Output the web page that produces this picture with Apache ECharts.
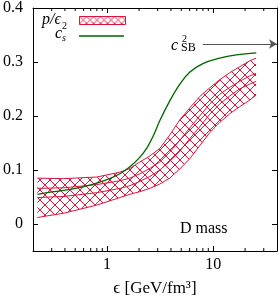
<!DOCTYPE html>
<html><head><meta charset="utf-8">
<script src="https://cdn.jsdelivr.net/npm/echarts@6/dist/echarts.min.js"></script>
<style>html,body{margin:0;padding:0;background:#fff}#c{width:279px;height:302px}</style>
</head><body><div id="c"></div>
<script>
// ---- data ----
const bandEps   = [0.22,0.39,0.80,1.32,1.64,2.04,2.53,3.14,3.90,4.85,6.02,7.47,9.27,11.5,14.3,17.7,22.0,25.4];
const bandUpper = [0.085,0.084,0.087,0.096,0.103,0.115,0.126,0.140,0.165,0.193,0.215,0.236,0.252,0.267,0.280,0.291,0.302,0.307];
const bandInnerHigh = [0.066,0.067,0.073,0.080,0.085,0.093,0.103,0.115,0.133,0.155,0.178,0.200,0.222,0.240,0.253,0.264,0.274,0.279];
const bandInnerLow  = [0.049,0.051,0.058,0.066,0.071,0.079,0.088,0.100,0.116,0.135,0.158,0.180,0.203,0.222,0.237,0.250,0.259,0.264];
const bandLower = [0.012,0.020,0.035,0.049,0.055,0.060,0.066,0.074,0.085,0.102,0.121,0.145,0.169,0.188,0.204,0.217,0.229,0.239];
const cs2Eps = [0.22,0.29,0.45,0.69,1.0,1.32,1.64,2.0,2.36,2.72,3.15,3.9,4.85,6.0,8.0,11.5,16.5,25.5];
const cs2    = [0.055,0.059,0.064,0.072,0.082,0.093,0.106,0.122,0.140,0.163,0.192,0.228,0.259,0.281,0.297,0.307,0.313,0.317];
const yTicks = [0,0.1,0.2,0.3,0.4];
const xMinorTicks = [0.3,0.4,0.5,0.6,0.7,0.8,0.9,2,3,4,5,6,7,8,9,20,30];
const cSB = 1/3;
const sbArrowFrom = 8, sbArrowTo = 40;
const xMin = 0.2, xMax = 40, yMin = -0.05, yMax = 0.4;

const RED = '#dc143c', GREEN = '#006400';
const FONT = 'Liberation Serif';

function hatch(size, color, lw){
  const c = document.createElement('canvas'); c.width = size; c.height = size;
  const g = c.getContext('2d'); g.strokeStyle = color; g.lineWidth = lw;
  g.beginPath(); g.moveTo(0,0); g.lineTo(size,size); g.moveTo(size,0); g.lineTo(0,size); g.stroke();
  return c;
}
const hatchBig = hatch(10, RED, 1);
const hatchSmall = hatch(7, RED, 0.9);

const pairs = (xs, ys) => xs.map((x,i)=>[x, ys[i]]);
const edge = (ys) => ({type:'line', data:pairs(bandEps, ys), showSymbol:false, symbol:'none',
  lineStyle:{color:RED, width:1}, silent:true, z:3});
const txt = (left, top, text, size, italic) => ({type:'text', left, top,
  style:{text, fontFamily:FONT, fontSize:size, fontStyle: italic ? 'italic' : 'normal', fill:'#000'}});

const chart = echarts.init(document.getElementById('c'), null, {renderer:'canvas'});
const axCommon = {type:'log', min:xMin, max:xMax, logBase:10,
  axisLine:{show:true, onZero:false, lineStyle:{color:'#000', width:1}},
  axisTick:{show:true, inside:true, length:5, lineStyle:{color:'#000'}},
  splitLine:{show:false}, minorTick:{show:false}};
const yCommon = {type:'value', min:yMin, max:yMax,
  axisLine:{show:true, onZero:false, lineStyle:{color:'#000', width:1}},
  axisTick:{show:true, inside:true, length:5, customValues:yTicks, lineStyle:{color:'#000'}},
  splitLine:{show:false}};

chart.setOption({
  animation:false,
  grid:{left:32, right:2, top:7, bottom:49, containLabel:false},
  xAxis:[
    Object.assign({}, axCommon, {position:'bottom',
      axisLabel:{show:true, margin:6, color:'#000', fontFamily:FONT, fontSize:16, showMinLabel:false, showMaxLabel:false},
      name:'ϵ [GeV/fm³]', nameLocation:'middle', nameGap:29,
      nameTextStyle:{color:'#000', fontFamily:FONT, fontSize:17}}),
    Object.assign({}, axCommon, {position:'top', axisLabel:{show:false}})
  ],
  yAxis:[
    Object.assign({}, yCommon, {position:'left',
      axisLabel:{show:true, margin:10, color:'#000', fontFamily:FONT, fontSize:16, customValues:yTicks,
        formatter:v => (Math.abs(v)<1e-9 ? '0' : v.toFixed(1))}}),
    Object.assign({}, yCommon, {position:'right', axisLabel:{show:false}})
  ],
  series:[
    {type:'custom', silent:true, z:2, clip:true,
      data:[[bandEps[0], bandUpper[0]]],
      renderItem:(params, api)=>{
        const pts = [];
        for (let i=0;i<bandEps.length;i++) pts.push(api.coord([bandEps[i], bandUpper[i]]));
        for (let i=bandEps.length-1;i>=0;i--) pts.push(api.coord([bandEps[i], bandLower[i]]));
        return {type:'polygon', shape:{points:pts},
          style:{fill:{image:hatchBig, repeat:'repeat'}, stroke:null}};
      }},
    edge(bandUpper), edge(bandInnerHigh), edge(bandInnerLow), edge(bandLower),
    {type:'line', data:pairs(cs2Eps, cs2), showSymbol:false, symbol:'none', smooth:0.4,
      lineStyle:{color:GREEN, width:1.3}, silent:true, z:4,
      markLine:{silent:true, symbol:['none','arrow'], symbolSize:[7,8], label:{show:false},
        lineStyle:{color:'#555', width:1.2, type:'solid'}, emphasis:{disabled:true},
        data:[[{coord:[sbArrowFrom, cSB]},{coord:[sbArrowTo, cSB]}]]}},
    {type:'custom', silent:true, clip:false, z:5,
      data:xMinorTicks.map(v=>[v, yMin]),
      renderItem:(params, api)=>{
        const v = api.value(0);
        const b = api.coord([v, yMin]), t = api.coord([v, yMax]);
        return {type:'group', children:[
          {type:'line', shape:{x1:b[0], y1:b[1], x2:b[0], y2:b[1]-3}, style:{stroke:'#000', lineWidth:1}},
          {type:'line', shape:{x1:t[0], y1:t[1], x2:t[0], y2:t[1]+3}, style:{stroke:'#000', lineWidth:1}}
        ]};
      }}
  ],
  graphic:[
    txt(42, 12, 'p/ϵ', 16, true),
    {type:'rect', left:79, top:16, shape:{width:46, height:8},
      style:{fill:{image:hatchSmall, repeat:'repeat'}, stroke:RED, lineWidth:1}},
    txt(55, 26, 'c', 16, true),
    txt(62, 21, '2', 10, false),
    txt(62, 33, 's', 10, true),
    {type:'line', shape:{x1:79, y1:36, x2:124, y2:36}, style:{stroke:GREEN, lineWidth:1.5}},
    txt(171, 38, 'c', 16, true),
    txt(182, 34, '2', 10, false),
    txt(181, 42, 'SB', 12, false),
    txt(180, 221, 'D mass', 16, false)
  ]
});
</script></body></html>
